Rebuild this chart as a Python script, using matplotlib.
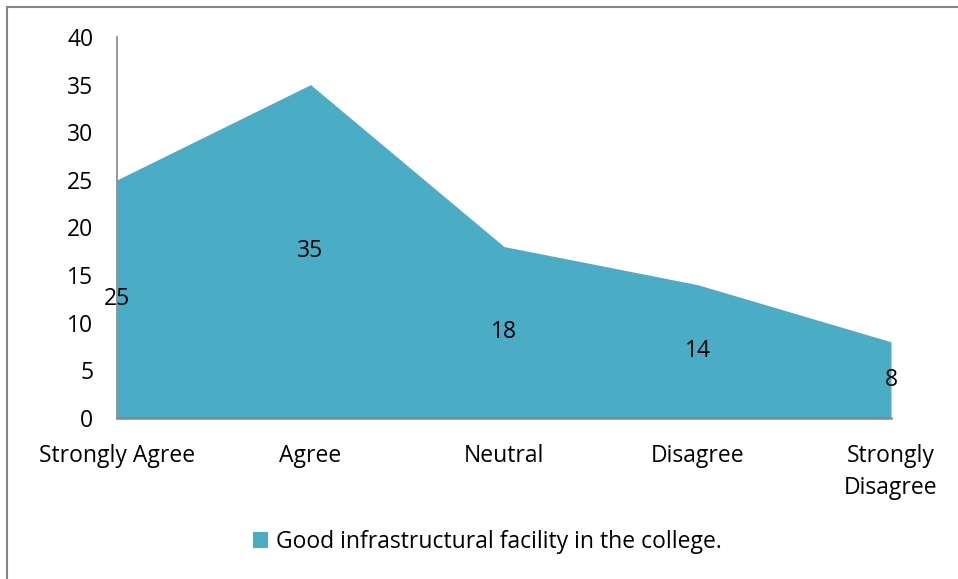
import matplotlib
matplotlib.use("Agg")
import matplotlib.pyplot as plt
from matplotlib.patches import Rectangle

# Survey responses
categories = ["Strongly Agree", "Agree", "Neutral", "Disagree", "Strongly\nDisagree"]
counts = [25, 35, 18, 14, 8]
series_name = "Good infrastructural facility in the college."
y_ticks = [0, 5, 10, 15, 20, 25, 30, 35, 40]

plt.rcParams["font.family"] = ["Open Sans", "DejaVu Sans"]
fill_color = "#4BACC6"
axis_gray = "#868686"
fs = 16.5

fig = plt.figure(figsize=(9.58, 5.79), dpi=100)
ax = fig.add_axes([117 / 958, 1 - 418 / 579, (891 - 117) / 958, (418 - 37) / 579])

x = list(range(len(categories)))
ax.fill_between(x, counts, 0, color=fill_color, linewidth=0, label=series_name)

# data labels sit half way up the area
for xi, v in zip(x, counts):
    ax.text(xi, v / 2, str(v), ha="center", va="center", fontsize=fs, color="black")

ax.set_xlim(0, len(categories) - 1)
ax.set_ylim(0, 40)
ax.set_yticks(y_ticks)
ax.set_xticks(x)
ax.set_xticklabels(categories, fontsize=fs, linespacing=1.45, va="top")
ax.tick_params(axis="y", length=0, pad=17, labelsize=fs)
ax.tick_params(axis="x", length=0, pad=19)

for side in ("top", "right"):
    ax.spines[side].set_visible(False)
ax.spines["left"].set_color(axis_gray)
ax.spines["left"].set_linewidth(1.2)
ax.spines["bottom"].set_color(axis_gray)
ax.spines["bottom"].set_linewidth(1.8)

fig.legend(loc="center", bbox_to_anchor=(487 / 958, 1 - 542 / 579), frameon=False,
           fontsize=fs, handlelength=0.65, handleheight=0.65, handletextpad=0.35)

# outer chart border
fig.patches.append(Rectangle((7 / 958, -0.05), 1.2, 1 - 7 / 579 + 0.05,
                             transform=fig.transFigure, fill=False,
                             edgecolor=axis_gray, linewidth=1.5))

fig.savefig("out.png", dpi=100)
